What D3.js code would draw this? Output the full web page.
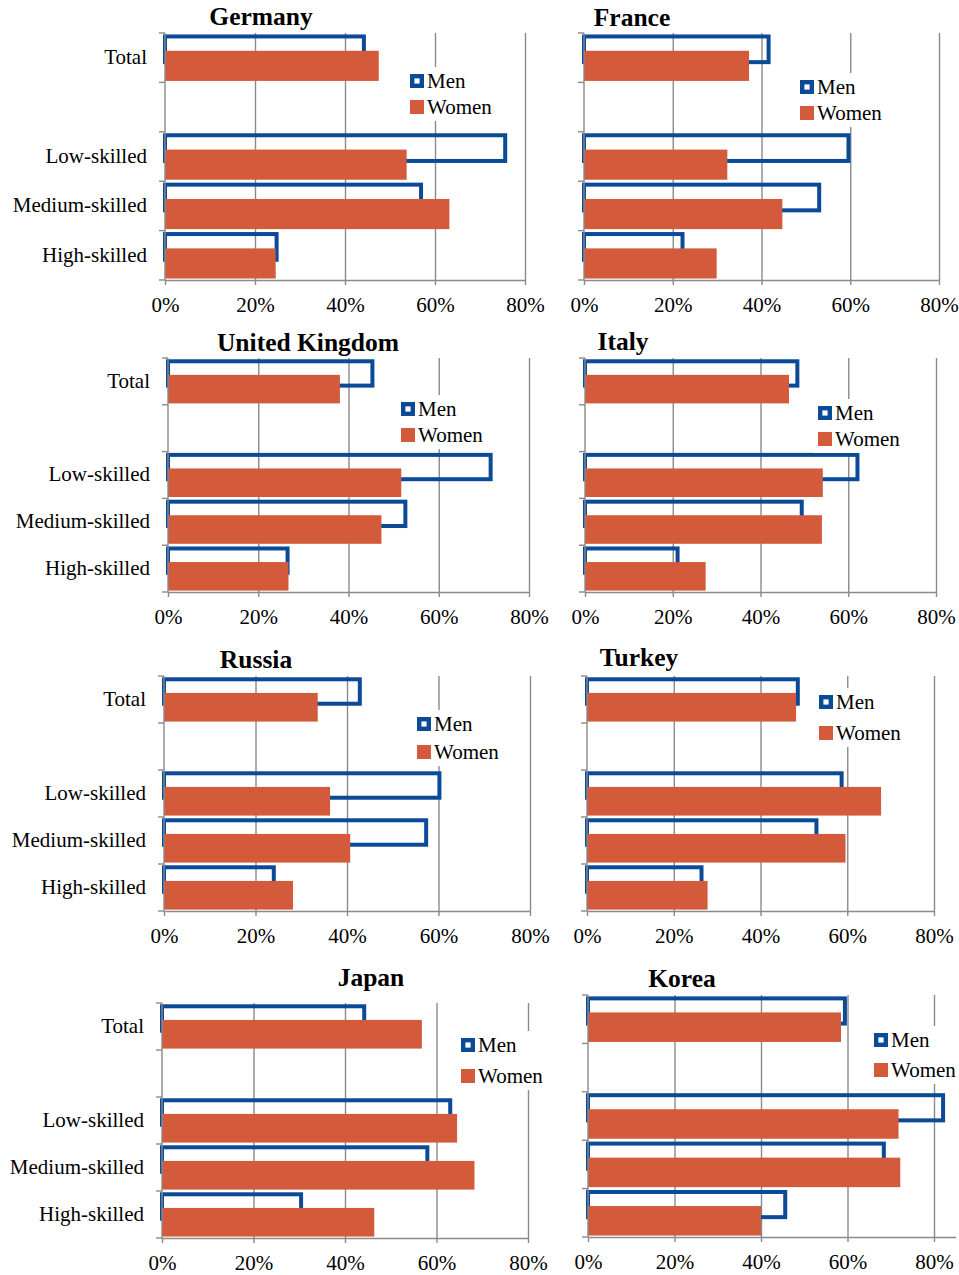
<!DOCTYPE html>
<html>
<head>
<meta charset="utf-8">
<script src="https://cdn.jsdelivr.net/npm/d3@7"></script>
<style>
	body { margin: 0; background: #fff; }
	svg text { font-family: "Liberation Serif", "Times New Roman", serif; fill: #000; }
</style>
</head>
<body>
<svg id="chart" width="959" height="1275"></svg>
<script>
// Data (percent)
var countries = ["Germany", "France", "United Kingdom", "Italy", "Russia", "Turkey", "Japan", "Korea"];
var categories = ["Total", "Low-skilled", "Medium-skilled", "High-skilled"];
var seriesNames = ["Men", "Women"];
var menShare = [
	[44.2, 75.6, 56.9, 24.8],
	[41.6, 59.6, 53.0, 22.2],
	[45.3, 71.5, 52.6, 26.5],
	[48.4, 62.1, 49.4, 21.1],
	[42.8, 60.2, 57.3, 24.0],
	[48.6, 58.7, 52.9, 26.4],
	[44.2, 63.0, 58.0, 30.4],
	[59.4, 82.1, 68.4, 45.6]
];
var womenShare = [
	[47.5, 53.7, 63.2, 24.6],
	[37.2, 32.3, 44.7, 29.9],
	[38.1, 51.7, 47.3, 26.7],
	[46.5, 54.2, 54.0, 27.5],
	[33.6, 36.3, 40.7, 28.2],
	[48.2, 67.8, 59.6, 27.8],
	[56.8, 64.5, 68.3, 46.4],
	[58.5, 71.8, 72.2, 40.0]
];
var xTicks = [0, 20, 40, 60, 80];
var axisMax = [80, 80, 80, 80, 80, 80, 80, 85];

// Panel layout (pixels)
var panels = [
	{ x0: 165, x80: 525, top: 33, bottom: 280, titleX: 261, titleY: 25, legX: 410, legY: [81, 107], labels: true },
	{ x0: 584, x80: 939, top: 33, bottom: 280, titleX: 632, titleY: 26, legX: 800, legY: [87, 113], labels: false },
	{ x0: 168, x80: 529, top: 358, bottom: 592, titleX: 308, titleY: 351, legX: 401, legY: [409, 435], labels: true },
	{ x0: 585, x80: 936, top: 358, bottom: 592, titleX: 623, titleY: 350, legX: 818, legY: [413, 439], labels: false },
	{ x0: 164, x80: 530, top: 676, bottom: 911, titleX: 256, titleY: 668, legX: 417, legY: [724, 752], labels: true },
	{ x0: 587, x80: 934, top: 676, bottom: 911, titleX: 639, titleY: 666, legX: 819, legY: [702, 733], labels: false },
	{ x0: 162, x80: 528, top: 1003, bottom: 1238, titleX: 371, titleY: 986, legX: 461, legY: [1045, 1076], labels: true },
	{ x0: 588, x80: 934, top: 995, bottom: 1237, titleX: 682, titleY: 987, legX: 874, legY: [1040, 1070], labels: false }
];

var menColor = "#0b4a96";
var womenColor = "#d35b3c";
var gridColor = "#8a8a8a";
var fontSize = 21;

var svg = d3.select("#chart");

countries.forEach(function (country, i) {
	var p = panels[i];
	var g = svg.append("g");

	var x = d3.scaleLinear()
		.domain([0, axisMax[i]])
		.range([p.x0, p.x0 + (p.x80 - p.x0) * axisMax[i] / 80]);

	// one empty slot between Total and the skill groups
	var slots = ["Total", "gap"].concat(categories.slice(1));
	var y = d3.scaleBand().domain(slots).range([p.top, p.bottom]).padding(0);
	var h = y.bandwidth();

	// Gridlines
	g.append("g")
		.attr("transform", "translate(0," + p.top + ")")
		.call(d3.axisBottom(x).tickValues(xTicks.slice(1)).tickSize(p.bottom - p.top).tickFormat(""))
		.call(function (a) {
			a.select(".domain").remove();
			a.selectAll(".tick line").attr("stroke", gridColor).attr("stroke-width", 1.4);
		});

	// Men: outlined bars
	var rows = categories.map(function (c, j) {
		return { cat: c, men: menShare[i][j], women: womenShare[i][j] };
	});
	g.selectAll(".men")
		.data(rows)
		.enter()
		.append("rect")
		.attr("x", x(0))
		.attr("y", function (d) { return y(d.cat) + 0.07 * h; })
		.attr("width", function (d) { return x(d.men) - x(0); })
		.attr("height", 0.52 * h)
		.attr("fill", "none")
		.attr("stroke", menColor)
		.attr("stroke-width", 4);

	// Women: filled bars, drawn over the men outlines
	g.selectAll(".women")
		.data(rows)
		.enter()
		.append("rect")
		.attr("x", x(0))
		.attr("y", function (d) { return y(d.cat) + 0.36 * h; })
		.attr("width", function (d) { return x(d.women) - x(0); })
		.attr("height", 0.61 * h)
		.attr("fill", womenColor);

	// X axis
	g.append("g")
		.attr("transform", "translate(0," + p.bottom + ")")
		.call(d3.axisBottom(x).tickValues(xTicks).tickSize(5).tickPadding(12).tickSizeOuter(0)
			.tickFormat(function (d) { return d + "%"; }))
		.call(function (a) {
			a.select(".domain").attr("stroke", gridColor).attr("stroke-width", 1.4);
			a.selectAll(".tick line").attr("stroke", gridColor).attr("stroke-width", 1.4);
			a.selectAll("text")
				.attr("font-size", fontSize)
				.attr("fill", "#000")
				.style("font-family", '"Liberation Serif", "Times New Roman", serif');
		});

	// Y axis line and boundary ticks
	g.append("line")
		.attr("x1", x(0)).attr("x2", x(0))
		.attr("y1", p.top).attr("y2", p.bottom)
		.attr("stroke", gridColor).attr("stroke-width", 1.4);
	var bounds = slots.map(function (s) { return y(s); }).concat([p.bottom]);
	g.selectAll(".ytick")
		.data(bounds)
		.enter()
		.append("line")
		.attr("x1", x(0) - 6).attr("x2", x(0))
		.attr("y1", function (d) { return d; }).attr("y2", function (d) { return d; })
		.attr("stroke", gridColor).attr("stroke-width", 1.4);

	// Category labels (left column only)
	if (p.labels) {
		g.selectAll(".cat")
			.data(categories)
			.enter()
			.append("text")
			.attr("x", x(0) - 18)
			.attr("y", function (d) { return y(d) + h / 2; })
			.attr("dy", "0.3em")
			.attr("text-anchor", "end")
			.attr("font-size", fontSize)
			.text(function (d) { return d; });
	}

	// Title
	g.append("text")
		.attr("x", p.titleX)
		.attr("y", p.titleY)
		.attr("text-anchor", "middle")
		.attr("font-size", 25.5)
		.attr("font-weight", "bold")
		.text(country);

	// Legend with white background
	var leg = g.append("g");
	leg.append("rect")
		.attr("x", p.legX - 4)
		.attr("y", p.legY[0] - 14)
		.attr("width", 92)
		.attr("height", p.legY[1] - p.legY[0] + 28)
		.attr("fill", "#fff");
	leg.append("rect")
		.attr("x", p.legX + 2.2)
		.attr("y", p.legY[0] - 4.8)
		.attr("width", 9.6)
		.attr("height", 9.6)
		.attr("fill", "#fff")
		.attr("stroke", menColor)
		.attr("stroke-width", 4.4);
	leg.append("rect")
		.attr("x", p.legX)
		.attr("y", p.legY[1] - 7)
		.attr("width", 14)
		.attr("height", 14)
		.attr("fill", womenColor);
	leg.selectAll(".lt")
		.data(seriesNames)
		.enter()
		.append("text")
		.attr("x", p.legX + 17)
		.attr("y", function (d, k) { return p.legY[k]; })
		.attr("dy", "0.33em")
		.attr("font-size", fontSize)
		.text(function (d) { return d; });
});
</script>
</body>
</html>
